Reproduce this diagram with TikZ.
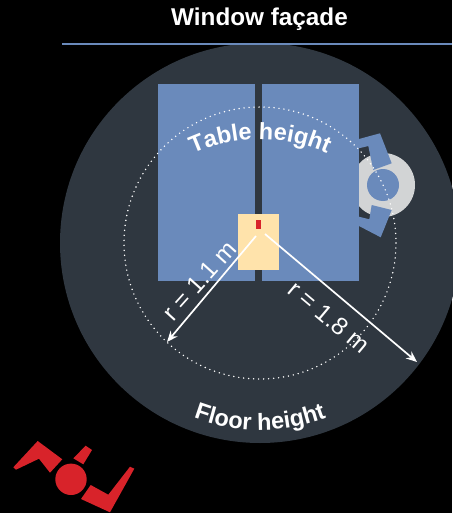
\documentclass[tikz,border=0pt]{standalone}
\usepackage{fontspec}
\setmainfont{Liberation Sans}
\usetikzlibrary{decorations.text,arrows.meta}
\definecolor{slatebg}{HTML}{2F3740}
\definecolor{paneblue}{HTML}{6A8ABB}
\definecolor{cream}{HTML}{FFE3AB}
\definecolor{markred}{HTML}{D8232A}
\definecolor{chairgrey}{HTML}{D2D4D5}
\tikzset{
  pane/.style={fill=paneblue,draw=none},
  logo/.style={fill=markred,draw=none},
  radius line/.style={draw=white,line width=1.7pt,-{Stealth[length=11pt,width=9pt]}},
  radius label/.style={text=white,font=\fontsize{24.5}{25}\selectfont,inner sep=0pt},
  arc text/.style={decorate,decoration={text along path,text align=center,
     text={|\fontsize{23.5}{24}\selectfont\bfseries\color{white}|#1}}}
}
\begin{document}
\begin{tikzpicture}[x=1pt,y=-1pt]
\useasboundingbox (0,0) rectangle (452,513);
\fill[black] (0,0) rectangle (452,513);
\fill[slatebg] (260,243) circle[radius=200];
\fill[paneblue] (62,42.7) rectangle (452,44.7);
\node[text=white,font=\fontsize{24.3}{25}\selectfont\bfseries,inner sep=0pt] (title) at (259.5,19) {Window façade};
% chair
\fill[chairgrey] (383,185) circle[radius=32];
\fill[paneblue] (383,185) circle[radius=16];
\fill[paneblue] (359,139) -- (380,133.3) -- (391.7,163.3) -- (373.3,170) -- (368.3,146) -- (359,148.3) -- cycle;
\fill[paneblue] (359,226) -- (380.7,237.3) -- (391.7,210) -- (371.7,205) -- (369.3,219.3) -- (359,216.7) -- cycle;
% panes
\path[pane] (158,84) rectangle (255,281);
\path[pane] (262,84) rectangle (359,281);
\fill[cream] (238,214) rectangle (279,270);
\fill[markred] (256,220) rectangle (261,229);
% dotted
\draw[white,line width=1.6pt,line cap=round,dash pattern=on 0pt off 5pt] (260,243) circle[radius=136];
% arrows
\coordinate (a1) at (256,236);
\coordinate (b1) at (167,342);
\coordinate (a2) at (265,234);
\coordinate (b2) at (417,362);
\draw[radius line] (a1) -- (b1);
\draw[radius line] (a2) -- (b2);
\node[radius label,rotate=48] (r1) at (199.5,280.5) {r = 1.1 m};
\node[radius label,rotate=-40] (r2) at (329,317) {r = 1.8 m};
% curved
\path[postaction={arc text=Table height}] (174,164) .. controls (226.8,131) and (293.2,131) .. (346,164);
\path[postaction={arc text=Floor height}] (161,401.6) .. controls (221.6,439.4) and (298.4,439.4) .. (359,401.6);
% logo
\path[logo] (13.3,467.3) -- (37.7,441) -- (62.3,459.3) -- (50,472.7) -- (39,458.7) -- (16,469.7) -- cycle;
\path[logo] (73.3,458.3) -- (85.7,445.7) -- (92,450) -- (83.3,464.3) -- cycle;
\fill[markred] (71,479.3) circle[radius=15.7];
\path[logo] (81,499) -- (90.7,485) -- (108.3,494.7) -- (130,466.7) -- (134.3,468.7) -- (110,512.3) -- cycle;
\end{tikzpicture}
\end{document}
